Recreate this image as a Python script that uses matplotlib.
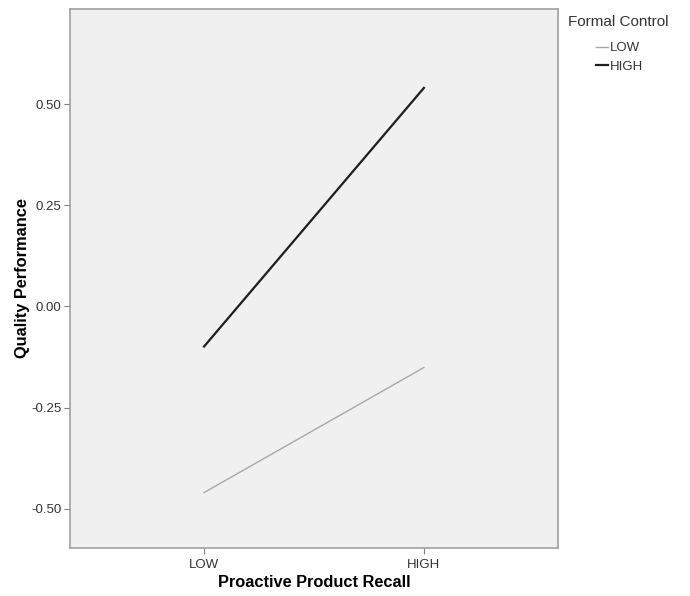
import matplotlib.pyplot as plt
import numpy as np

plt.rcParams["font.family"] = ["Liberation Sans", "DejaVu Sans"]

# estimated marginal means
recall_levels = ["LOW", "HIGH"]
control_levels = ["LOW", "HIGH"]
means_low_control = [-0.460, -0.151]
means_high_control = [-0.099, 0.540]

y_ticks = [-0.50, -0.25, 0.00, 0.25, 0.50]

fig = plt.figure(figsize=(6.9, 5.96), dpi=100)
ax = fig.add_axes([70 / 690, 48 / 596, 488 / 690, 539 / 596])
ax.set_facecolor("#f0f0f0")

x = np.arange(len(recall_levels))
l1, = ax.plot(x, means_low_control, color="#a8a8a8", linewidth=1.0, label=control_levels[0])
l2, = ax.plot(x, means_high_control, color="#1e1e1e", linewidth=1.6, label=control_levels[1])

ax.set_xlim(-0.61, 1.61)
ax.set_ylim(-0.597, 0.735)
ax.set_xticks(x)
ax.set_xticklabels(recall_levels)
ax.set_yticks(y_ticks)
ax.set_yticklabels([f"{v:.2f}" for v in y_ticks])

for side in ["left", "bottom", "top", "right"]:
    ax.spines[side].set_color("#a0a0a0")
    ax.spines[side].set_linewidth(1.2)
ax.tick_params(direction="out", length=4, width=0.8, color="#808080",
               labelsize=9.5, labelcolor="#333333", pad=2)
ax.tick_params(axis="x", pad=4)

ax.set_xlabel("Proactive Product Recall", fontsize=11.8, fontweight="bold", labelpad=3)
ax.set_ylabel("Quality Performance", fontsize=11.8, fontweight="bold", labelpad=1)

fig.text(568 / 690, 1 - 22 / 596, "Formal Control", fontsize=11, color="#333333",
         ha="left", va="center")
leg = fig.legend(handles=[l1, l2], loc="upper left",
                 bbox_to_anchor=(587 / 690, 1 - 33 / 596), frameon=False,
                 fontsize=9.5, handlelength=0.9, handletextpad=0.1,
                 labelspacing=0.45, borderpad=0.2)
for t in leg.get_texts():
    t.set_color("#333333")

fig.savefig("out.png", dpi=100)
